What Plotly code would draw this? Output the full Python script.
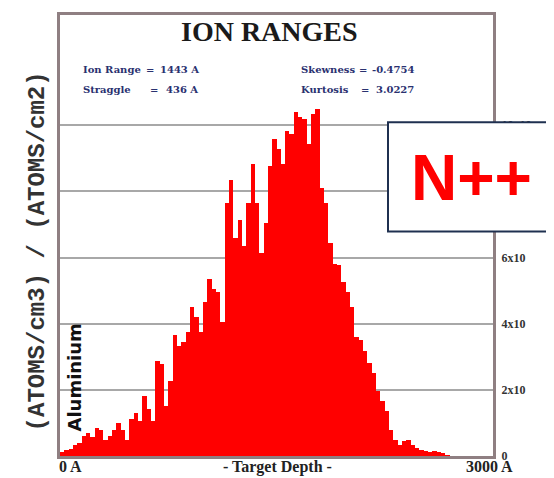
import plotly.graph_objects as go

# ---- data ----
bin_width = 30  # Angstrom
depth_bins = [bin_width * i + bin_width / 2 for i in range(100)]
ion_counts = [
    0.12, 0.18, 0.20, 0.33, 0.39, 0.60, 0.69, 0.57, 0.84, 0.78,
    0.48, 0.60, 0.78, 1.00, 0.78, 0.48, 1.13, 1.31, 1.07, 1.80,
    1.43, 1.07, 2.87, 2.78, 1.52, 2.27, 3.67, 3.31, 3.46, 3.76,
    4.50, 4.20, 3.76, 4.66, 5.34, 5.04, 4.96, 4.06, 7.64, 8.33,
    6.60, 7.13, 6.36, 7.64, 8.84, 7.64, 6.15, 7.04, 8.78, 9.58,
    9.28, 8.84, 9.82, 9.73, 10.39, 10.24, 10.18, 9.43, 10.33, 10.48,
    8.09, 7.64, 6.45, 5.79, 5.76, 5.25, 4.96, 4.50, 3.61, 3.52,
    3.16, 2.81, 2.51, 1.97, 1.67, 1.37, 0.78, 0.48, 0.33, 0.45,
    0.48, 0.33, 0.24, 0.18, 0.15, 0.12, 0.15, 0.12, 0.09, 0.03,
    0.0, 0.0, 0.0, 0.0, 0.0, 0.0, 0.0, 0.0, 0.0, 0.0,
]
tick_values = [0, 2, 4, 6, 8, 10]
tick_labels = ["0", "2x10", "4x10", "6x10", "8x10", "10x10"]
stats_labels = ["Ion Range", "Straggle", "Skewness", "Kurtosis"]
stats_values = ["1443 A", "436 A", "-0.4754", "3.0227"]

SERIF = "Liberation Serif"
SERIF2 = "DejaVu Serif"
NAVY = "#2a3170"

# page offset (browser body margin)
OFF = 8
W, H = 554 - OFF, 478 - OFF
L, R, T, B = 60 - OFF, 554 - 493, 12 - OFF, 478 - 456
PW, PH = W - L - R, H - T - B


def px(X):
    return (X - OFF - L) / PW


def py(Y):
    return (H - B - (Y - OFF)) / PH


fig = go.Figure()
fig.add_trace(go.Bar(
    x=depth_bins, y=ion_counts, width=bin_width,
    marker=dict(color="#ff0000", line=dict(width=0)),
    showlegend=False,
))

fig.update_layout(
    width=W, height=H,
    paper_bgcolor="white", plot_bgcolor="white",
    margin=dict(l=L, r=R, t=T, b=B),
    bargap=0,
    xaxis=dict(range=[0, 3000], showgrid=False, showticklabels=False,
               ticks="", zeroline=False, showline=True, mirror=True,
               linecolor="#8f7f82", linewidth=3),
    yaxis=dict(range=[0, 13.33], side="right", tickvals=tick_values,
               ticktext=["<b>%s</b>" % t for t in tick_labels],
               showgrid=True, gridcolor="#a8a8a8",
               gridwidth=2, zeroline=False, showline=True, mirror=True,
               linecolor="#8f7f82", linewidth=3, ticks="",
               tickfont=dict(family=SERIF, size=12, color="#333333"),
               ticklabelstandoff=3),
)

ann = []
ann.append(dict(text="<b>ION RANGES</b>", x=269, y=29, font=dict(family=SERIF, size=28, color="#1a1a1a")))
rows = [(81, 144, 158, 67, 0), (81, 148, 164, 87, 1), (299, 357, 370, 67, 2), (299, 359, 374, 87, 3)]
for lx, ex, vx, yy, k in rows:
    ann.append(dict(text="<b>%s</b>" % stats_labels[k], x=lx, y=yy, xanchor="left",
                    font=dict(family=SERIF2, size=10, color=NAVY)))
    ann.append(dict(text="<b>=</b>", x=ex, y=yy, xanchor="left",
                    font=dict(family=SERIF2, size=10, color=NAVY)))
    ann.append(dict(text="<b>%s</b>" % stats_values[k], x=vx, y=yy, xanchor="left",
                    font=dict(family=SERIF2, size=10, color=NAVY)))
ann.append(dict(text="<b>(ATOMS/cm3) / (ATOMS/cm2)</b>", x=37, y=250, textangle=-90,
                font=dict(family="Liberation Mono", size=24, color="#333333")))
ann.append(dict(text="<b>Aluminium</b>", x=75, y=377, textangle=-90,
                font=dict(family="DejaVu Sans", size=18, color="#111111")))
ann.append(dict(text="<b>0 A</b>", x=70, y=467, font=dict(family=SERIF, size=16, color="#222222")))
ann.append(dict(text="<b>- Target Depth -</b>", x=277, y=467, font=dict(family=SERIF, size=16, color="#222222")))
ann.append(dict(text="<b>3000 A</b>", x=489, y=467, font=dict(family=SERIF, size=16, color="#222222")))
for a in ann:
    a.setdefault("xanchor", "center")
    a.update(xref="paper", yref="paper", showarrow=False, yanchor="middle")
    a["x"] = px(a["x"])
    a["y"] = py(a["y"])
fig.update_layout(annotations=ann)

# N++ label box
fig.add_shape(type="rect", xref="paper", yref="paper",
              x0=px(388), x1=px(553), y0=py(230), y1=py(120),
              fillcolor="white", line=dict(color="#1f3050", width=2), layer="above")
fig.add_annotation(text="<b>N++</b>", xref="paper", yref="paper",
                   x=px(471), y=py(176), showarrow=False, xanchor="center", yanchor="middle",
                   font=dict(family="Liberation Sans", size=64, color="#ff0000"))

fig.write_html("out.html")
